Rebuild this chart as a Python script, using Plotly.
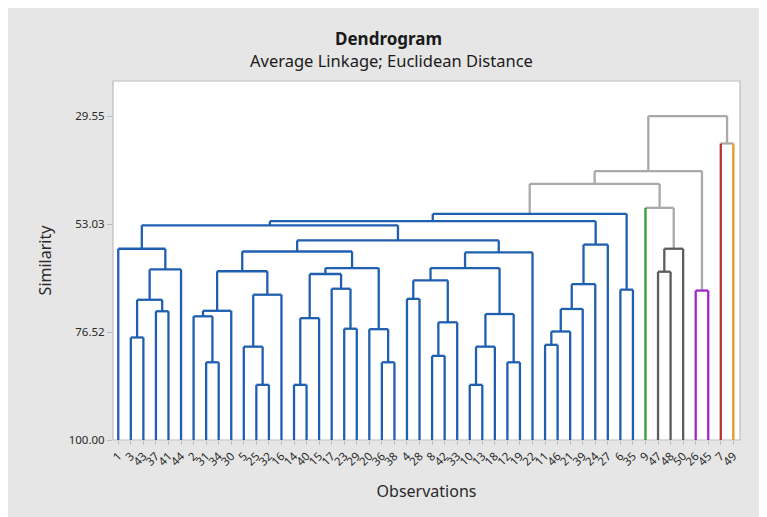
import plotly.graph_objects as go

# ---------------- data ----------------
leaf_order = [1, 3, 43, 37, 41, 44, 2, 31, 34, 30, 5, 25, 32, 16, 14, 40, 15, 17, 23, 29,
              20, 36, 38, 4, 28, 8, 42, 33, 10, 13, 18, 12, 19, 22, 11, 46, 21, 39, 24, 27,
              6, 35, 9, 47, 48, 50, 26, 45, 7, 49]

# children: int = observation number, "mK" = K-th merge (1-based)
merge_left = [3, 37, "m1", "m3", 1, 31, 2, "m7", 25, 5, "m10", "m8", 14, "m13", 23, 17, "m14",
              36, 20, "m17", "m12", 4, 8, "m23", "m22", 10, "m26", 12, "m27", "m25", "m30",
              "m21", "m5", 11, "m34", "m35", "m36", "m37", "m33", 6, "m39", 47, "m42", 9,
              "m41", 26, "m45", 7, "m47"]
merge_right = [43, 41, "m2", 44, "m4", 34, "m6", 30, 32, "m9", 16, "m11", 40, 15, 29, "m15",
               "m16", 38, "m18", "m19", "m20", 28, 42, 33, "m24", 13, 18, 19, "m28", "m29",
               22, "m31", "m32", 46, 21, 39, 24, 27, "m38", 35, "m40", 48, 50, "m43", "m44",
               45, "m46", 49, "m48"]
merge_similarity = [77.7, 72.0, 69.5, 62.9, 58.4, 83.1, 73.1, 71.9, 88.0, 79.7, 68.4, 63.3,
                    88.0, 73.5, 75.8, 67.1, 63.9, 83.1, 75.9, 62.6, 59.0, 69.3, 81.7, 74.4,
                    65.3, 88.0, 79.7, 83.1, 72.6, 62.6, 59.2, 56.6, 53.3, 79.3, 76.4, 71.5,
                    66.1, 57.5, 52.4, 67.3, 50.8, 63.4, 58.4, 49.5, 44.3, 67.5, 41.5, 35.5,
                    29.55]

cluster_members = {
    1: [1, 3, 43, 37, 41, 44, 2, 31, 34, 30, 5, 25, 32, 16, 14, 40, 15, 17, 23, 29, 20, 36,
        38, 4, 28, 8, 42, 33, 10, 13, 18, 12, 19, 22, 11, 46, 21, 39, 24, 27, 6, 35],
    2: [9],
    3: [47, 48, 50],
    4: [26, 45],
    5: [7],
    6: [49],
}
y_ticks = [29.55, 53.03, 76.52, 100.00]

# ---------------- styles ----------------
cluster_colors = {1: "#1f5fb0", 2: "#2f9e3a", 3: "#5c5c5c", 4: "#a326c6",
                  5: "#b73434", 6: "#e39b25"}
link_gray = "#a9a9a9"
FONT = "Noto Sans"
OFF = 8                      # page body margin
W, H = 767 - OFF, 517 - OFF
# plot area in screen pixels, converted to figure pixels
PL, PR, PT, PB = 113 - OFF, 740 - OFF, 81 - OFF, 440 - OFF

leaf_cluster = {obs: c for c, obs_list in cluster_members.items() for obs in obs_list}
pos = {obs: i + 1 for i, obs in enumerate(leaf_order)}

nodes = {}
for obs in leaf_order:
    nodes[obs] = dict(x=pos[obs], h=100.0, leaves={obs}, leaf=True)


def node_color(leaves):
    cl = {leaf_cluster[l] for l in leaves}
    return cluster_colors[cl.pop()] if len(cl) == 1 else link_gray


def stem_color(child, parent_color):
    if parent_color != link_gray:
        return parent_color
    if child["leaf"]:
        return node_color(child["leaves"])
    return link_gray


segments = {}


def add_seg(color, xs, ys):
    seg = segments.setdefault(color, ([], []))
    seg[0].extend(xs + [None])
    seg[1].extend(ys + [None])


for k, (a, b, s) in enumerate(zip(merge_left, merge_right, merge_similarity), start=1):
    na, nb = nodes[a], nodes[b]
    leaves = na["leaves"] | nb["leaves"]
    col = node_color(leaves)
    add_seg(stem_color(na, col), [na["x"], na["x"]], [na["h"], s])
    add_seg(stem_color(nb, col), [nb["x"], nb["x"]], [nb["h"], s])
    add_seg(col, [na["x"], nb["x"]], [s, s])
    nodes["m%d" % k] = dict(x=(na["x"] + nb["x"]) / 2, h=s, leaves=leaves, leaf=False)

fig = go.Figure()
order = [link_gray] + [cluster_colors[c] for c in cluster_colors]
for color in order:
    if color in segments:
        xs, ys = segments[color]
        fig.add_trace(go.Scatter(x=xs, y=ys, mode="lines",
                                 line=dict(color=color, width=2.3),
                                 hoverinfo="skip", showlegend=False))


def px_x(p):  # screen pixel -> paper fraction
    return (p - OFF - PL) / (PR - PL)


def px_y(p):
    return (PB - (p - OFF)) / (PB - PT)


fig.update_layout(
    width=W, height=H,
    margin=dict(l=PL, r=W - PR, t=PT, b=H - PB),
    paper_bgcolor="white",
    plot_bgcolor="white",
    font=dict(family=FONT, color="#333333"),
    shapes=[
        dict(type="rect", xref="paper", yref="paper",
             x0=px_x(6), x1=px_x(790), y0=px_y(540), y1=px_y(7),
             fillcolor="#e6e6e6", line=dict(color="black", width=1.5), layer="below"),
        dict(type="rect", xref="paper", yref="paper", x0=0, x1=1, y0=0, y1=1,
             fillcolor="white", line=dict(color="#bdbdbd", width=1.2), layer="below"),
    ],
    annotations=[
        dict(text="Dendrogram", xref="paper", yref="paper", x=px_x(388), y=px_y(38),
             showarrow=False, font=dict(size=17, color="#1a1a1a", family=FONT, weight="bold"),
             xanchor="center", yanchor="middle"),
        dict(text="Average Linkage; Euclidean Distance", xref="paper", yref="paper",
             x=px_x(391), y=px_y(60), showarrow=False,
             font=dict(size=16.5, color="#1a1a1a", family=FONT),
             xanchor="center", yanchor="middle"),
    ],
)

fig.update_xaxes(
    range=[0.58, 50.53],
    tickmode="array", tickvals=[pos[o] for o in leaf_order],
    ticktext=[str(o) for o in leaf_order],
    tickangle=-45, tickfont=dict(size=11.5, color="#2a2a2a"),
    ticks="outside", ticklen=4, tickcolor="#bdbdbd",
    showgrid=False, zeroline=False, showline=False,
    title=dict(text="Observations", font=dict(size=16, color="#2a2a2a"), standoff=18),
)
fig.update_yaxes(
    range=[100, 21.92],
    tickmode="array", tickvals=y_ticks, ticktext=["%.2f" % v for v in y_ticks],
    tickfont=dict(size=11.5, color="#2a2a2a"),
    ticks="outside", ticklen=5, tickcolor="#bdbdbd",
    showgrid=False, zeroline=False, showline=False,
    title=dict(text="Similarity", font=dict(size=16, color="#2a2a2a"), standoff=13),
)

fig.write_html("out.html")
